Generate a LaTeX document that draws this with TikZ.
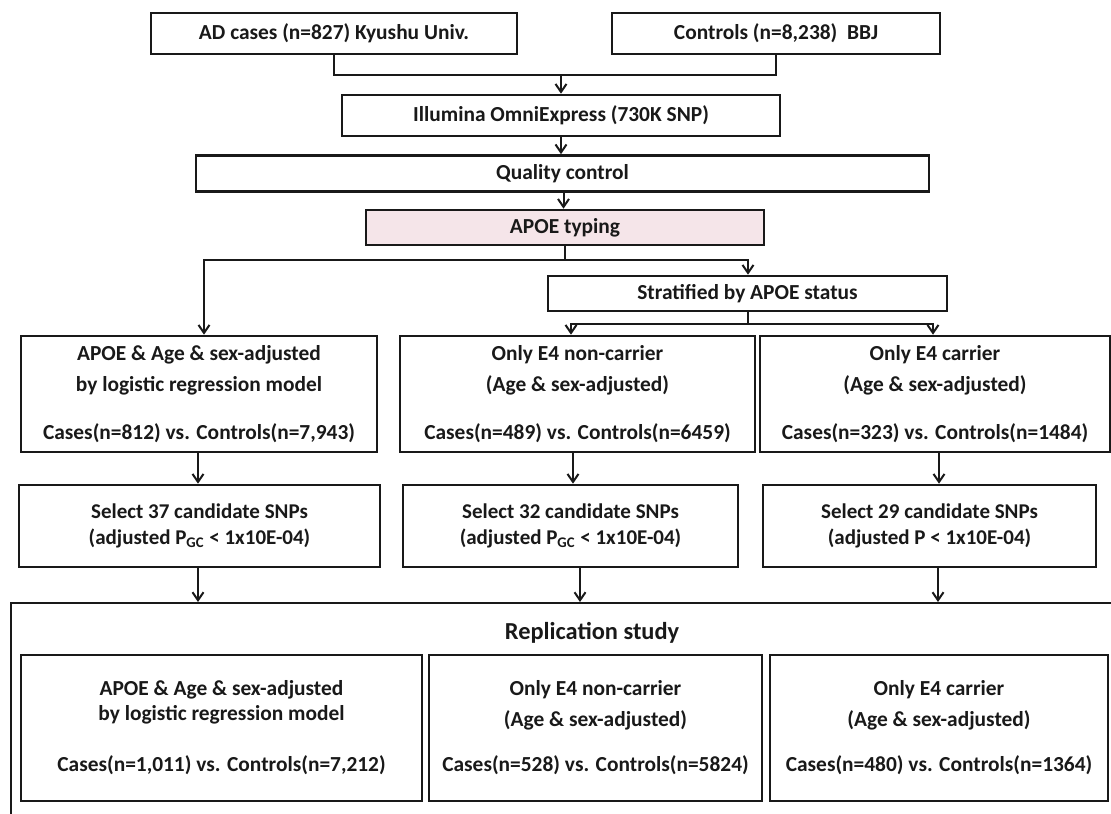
\documentclass[tikz,border=0pt]{standalone}
\usepackage{fontspec}
\setmainfont{Carlito}
\usetikzlibrary{arrows.meta}
\definecolor{ink}{RGB}{25,25,25}
\definecolor{apoepink}{RGB}{245,229,233}
\tikzset{
  box/.style={draw=ink, line width=1.3pt, inner sep=0pt, align=center, text=ink,
    font=\fontsize{10.7}{15.5}\selectfont\bfseries},
  selbox/.style={box, font=\fontsize{10.5}{13}\selectfont\bfseries},
  repbox/.style={draw=ink, line width=0.8pt, inner sep=0pt, align=center, text=ink,
    font=\fontsize{10.7}{15.5}\selectfont\bfseries},
  conn/.style={draw=ink, line width=1pt},
  arr/.style={conn, -{Straight Barb[length=4pt,width=5.5pt,line width=1pt]}}
}
\begin{document}
\begin{tikzpicture}[x=0.5pt,y=-0.5pt]
\useasboundingbox (0,0) rectangle (1111,813);
\clip (0,0) rectangle (1111,813);
\fill[white] (0,0) rectangle (1111,813);

% top
\node[box, minimum width=183pt, minimum height=20.5pt] (ad) at (334,33.5) {AD cases (n=827) Kyushu Univ.};
\node[box, minimum width=164pt, minimum height=20.5pt] (ctl) at (776,33.5) {Controls (n=8,238) \ BBJ};
\node[box, minimum width=219pt, minimum height=20.5pt] (illu) at (561,115.5) {Illumina OmniExpress (730K SNP)};
\node[box, minimum width=366.5pt, minimum height=18pt] (qc) at (562.5,173.5) {Quality control};
\node[box, fill=apoepink, minimum width=199pt, minimum height=17.5pt] (apoe) at (565,227.5) {APOE typing};
\node[box, minimum width=199.5pt, minimum height=17.5pt] (strat) at (747.5,293.5) {Stratified by APOE status};

% row 1
\node[box, minimum width=178pt, minimum height=58pt] (b1) at (199,394)
  {APOE \& Age \& sex-adjusted\\by logistic regression model\\[8.5pt]Cases(n=812) vs. Controls(n=7,943)};
\node[box, minimum width=177.5pt, minimum height=58pt] (b2) at (577.5,394)
  {Only E4 non-carrier\\(Age \& sex-adjusted)\\[8.5pt]Cases(n=489) vs. Controls(n=6459)};
\node[box, minimum width=175pt, minimum height=58pt] (b3) at (935,394)
  {Only E4 carrier\\(Age \& sex-adjusted)\\[8.5pt]Cases(n=323) vs. Controls(n=1484)};

% row 2
\node[selbox, minimum width=180.5pt, minimum height=41pt] (b4) at (199.5,526)
  {Select 37 candidate SNPs\\(adjusted P\textsubscript{GC} < 1x10E-04)};
\node[selbox, minimum width=167.5pt, minimum height=41pt] (b5) at (570.5,526)
  {Select 32 candidate SNPs\\(adjusted P\textsubscript{GC} < 1x10E-04)};
\node[selbox, minimum width=166.5pt, minimum height=41pt] (b6) at (929.5,526)
  {Select 29 candidate SNPs\\(adjusted P < 1x10E-04)};

% replication
\node[draw=ink, line width=1pt, minimum width=564pt, minimum height=118pt, inner sep=0pt] (rep) at (575,721) {};
\node[text=ink, font=\fontsize{12.2}{14}\selectfont\bfseries] (reptitle) at (592,633) {Replication study};
\node[repbox, font=\fontsize{10.7}{12.5}\selectfont\bfseries, minimum width=200.5pt, minimum height=73pt] (b7) at (221.5,728)
  {APOE \& Age \& sex-adjusted\\by logistic regression model\\[13pt]Cases(n=1,011) vs. Controls(n=7,212)};
\node[repbox, minimum width=166.5pt, minimum height=73pt] (b8) at (595.5,728)
  {Only E4 non-carrier\\(Age \& sex-adjusted)\\[7pt]Cases(n=528) vs. Controls(n=5824)};
\node[repbox, minimum width=169pt, minimum height=73pt] (b9) at (939,728)
  {Only E4 carrier\\(Age \& sex-adjusted)\\[7pt]Cases(n=480) vs. Controls(n=1364)};

% connectors
\coordinate (j) at (561,75);
\draw[conn] (ad.south) |- (j) -| (ctl.south);
\draw[arr] (j) -- (illu.north);
\draw[arr] (illu.south) -- (illu.south |- qc.north);
\draw[arr] ([xshift=0.5pt]qc.south) -- ([xshift=0.5pt]qc.south |- apoe.north);

\coordinate (sl) at (204,260);
\coordinate (sr) at (748,260);
\draw[arr] (apoe.south) |- (sl) -- (sl |- b1.north);
\draw[arr] (apoe.south |- sr) -- (sr) -- (sr |- strat.north);

\coordinate (bl) at (571,324);
\coordinate (br) at (933,324);
\draw[arr] (strat.south) |- (bl) -- (bl |- b2.north);
\draw[arr] (strat.south |- br) -- (br) -- (br |- b3.north);

\coordinate (c1) at (198,0);
\coordinate (c2) at (573,0);
\coordinate (c3) at (939,0);
\coordinate (d1) at (198,0);
\coordinate (d2) at (580,0);
\coordinate (d3) at (938,0);
\draw[arr] (b1.south -| c1) -- (b4.north -| c1);
\draw[arr] (b2.south -| c2) -- (b5.north -| c2);
\draw[arr] (b3.south -| c3) -- (b6.north -| c3);

\draw[arr] (b4.south -| d1) -- (rep.north -| d1);
\draw[arr] (b5.south -| d2) -- (rep.north -| d2);
\draw[arr] (b6.south -| d3) -- (rep.north -| d3);
\end{tikzpicture}
\end{document}
